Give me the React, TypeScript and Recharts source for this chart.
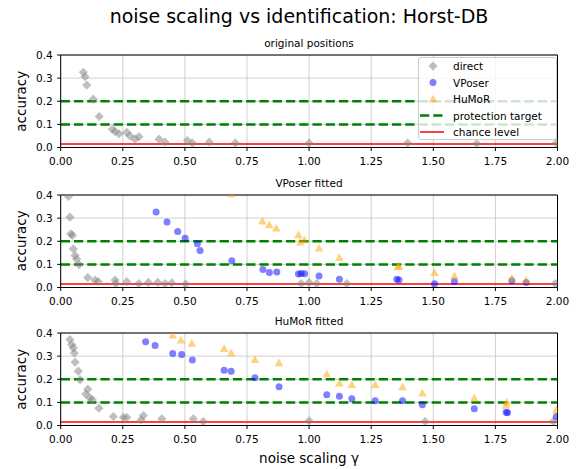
import {
  CartesianGrid,
  Legend,
  ReferenceLine,
  Scatter,
  ScatterChart,
  XAxis,
  YAxis,
} from "recharts";

type Pt = [number, number];

const xTicks = [0, 0.25, 0.5, 0.75, 1, 1.25, 1.5, 1.75, 2];
const yTicks = [0, 0.1, 0.2, 0.3, 0.4];
const protectionTargets = [0.1, 0.2];
const chanceLevel = 0.0147;
const legendLabels = ["direct", "VPoser", "HuMoR", "protection target", "chance level"];

// original positions
const origDirect: Pt[] = [
  [0.091, 0.325], [0.098, 0.306], [0.105, 0.27], [0.131, 0.209], [0.155, 0.134],
  [0.208, 0.079], [0.219, 0.069], [0.235, 0.059], [0.266, 0.065], [0.279, 0.05],
  [0.299, 0.036], [0.315, 0.047], [0.396, 0.036], [0.42, 0.023], [0.51, 0.03],
  [0.53, 0.019], [0.598, 0.023], [0.703, 0.019], [1.0, 0.019], [1.397, 0.019],
  [1.675, 0.017], [1.995, 0.019],
];

// VPoser fitted
const vpDirect: Pt[] = [
  [0.031, 0.394], [0.037, 0.304], [0.041, 0.232], [0.047, 0.225], [0.051, 0.167],
  [0.058, 0.138], [0.064, 0.123], [0.074, 0.099], [0.109, 0.043], [0.138, 0.032],
  [0.151, 0.026], [0.219, 0.032], [0.222, 0.017], [0.266, 0.025], [0.315, 0.017],
  [0.353, 0.022], [0.391, 0.022], [0.42, 0.017], [0.447, 0.02], [0.503, 0.015],
  [0.968, 0.017], [1.0, 0.022], [1.031, 0.017], [1.152, 0.017], [1.991, 0.017],
];
const vpVposer: Pt[] = [
  [0.384, 0.326], [0.428, 0.283], [0.471, 0.242], [0.501, 0.213], [0.55, 0.189],
  [0.561, 0.16], [0.689, 0.116], [0.814, 0.078], [0.84, 0.065], [0.87, 0.067],
  [0.957, 0.058], [0.968, 0.061], [0.982, 0.06], [1.04, 0.05], [1.122, 0.036],
  [1.353, 0.036], [1.362, 0.032], [1.505, 0.016], [1.585, 0.026], [1.816, 0.029],
  [1.874, 0.022],
];
const vpHumor: Pt[] = [
  [0.686, 0.405], [0.812, 0.287], [0.84, 0.271], [0.868, 0.257], [0.957, 0.228],
  [0.964, 0.196], [0.981, 0.206], [1.04, 0.171], [1.122, 0.13], [1.357, 0.09],
  [1.362, 0.094], [1.505, 0.065], [1.585, 0.051], [1.816, 0.041], [1.874, 0.032],
];

// HuMoR fitted
const hmDirect: Pt[] = [
  [0.037, 0.372], [0.044, 0.35], [0.051, 0.336], [0.055, 0.314], [0.058, 0.274],
  [0.071, 0.235], [0.078, 0.198], [0.109, 0.157], [0.101, 0.136], [0.118, 0.119],
  [0.127, 0.111], [0.154, 0.075], [0.212, 0.039], [0.252, 0.035], [0.266, 0.035],
  [0.323, 0.024], [0.333, 0.043], [0.407, 0.029], [0.534, 0.029], [0.574, 0.017],
  [1.0, 0.02], [1.467, 0.017], [1.983, 0.017],
];
const hmVposer: Pt[] = [
  [0.342, 0.362], [0.38, 0.346], [0.451, 0.311], [0.487, 0.307], [0.53, 0.283],
  [0.658, 0.239], [0.686, 0.235], [0.782, 0.206], [0.879, 0.168], [1.071, 0.133],
  [1.122, 0.126], [1.172, 0.116], [1.266, 0.107], [1.376, 0.107], [1.456, 0.09],
  [1.665, 0.072], [1.793, 0.057], [1.799, 0.055], [1.995, 0.039],
];
const hmHumor: Pt[] = [
  [0.451, 0.391], [0.484, 0.37], [0.528, 0.355], [0.658, 0.333], [0.686, 0.314],
  [0.782, 0.285], [0.879, 0.271], [1.071, 0.223], [1.122, 0.184], [1.172, 0.177],
  [1.266, 0.177], [1.376, 0.167], [1.456, 0.14], [1.665, 0.119], [1.796, 0.101],
  [1.793, 0.087], [1.995, 0.068],
];

const FONT = "'DejaVu Sans', sans-serif";
const PLOT_H = 92.5;
const AXIS_H = 20;
const PAD_TOP = 8;
const GRAY = "#808080";
const BLUE = "#0000ff";
const ORANGE = "#ffa500";
const GREEN = "#008000";
const RED = "#ff0000";

const toRows = (pts: Pt[]) => pts.map(([g, a]) => ({ g, a }));

function diamondPath(cx: number, cy: number, r = 4.6) {
  return `M${cx},${cy - r}L${cx + r},${cy}L${cx},${cy + r}L${cx - r},${cy}Z`;
}
function trianglePath(cx: number, cy: number, r = 4.3) {
  return `M${cx},${cy - r}L${cx + r},${cy + r * 0.8}L${cx - r},${cy + r * 0.8}Z`;
}

const Diamond = (p: any) =>
  p.cx == null ? null : <path d={diamondPath(p.cx, p.cy)} fill={GRAY} fillOpacity={0.5} />;
const Dot = (p: any) =>
  p.cx == null ? null : <circle cx={p.cx} cy={p.cy} r={3.5} fill={BLUE} fillOpacity={0.5} />;
const Tri = (p: any) =>
  p.cx == null ? null : <path d={trianglePath(p.cx, p.cy)} fill={ORANGE} fillOpacity={0.5} />;

function LegendBox() {
  const rowY = [9, 25.6, 42, 58.5, 75];
  return (
    <svg width={139} height={83} style={{ display: "block" }}>
      <rect x={0.5} y={0.5} width={138} height={82} rx={2.5} fill="#fff" fillOpacity={0.8} stroke="#cccccc" />
      <path d={diamondPath(15, rowY[0])} fill={GRAY} fillOpacity={0.5} />
      <circle cx={15} cy={rowY[1]} r={3.5} fill={BLUE} fillOpacity={0.5} />
      <path d={trianglePath(15, rowY[2])} fill={ORANGE} fillOpacity={0.5} />
      <line x1={2} x2={26} y1={rowY[3]} y2={rowY[3]} stroke={GREEN} strokeWidth={2.5} strokeDasharray="9.25 4" />
      <line x1={2} x2={26} y1={rowY[4]} y2={rowY[4]} stroke={RED} strokeWidth={1.5} />
      {legendLabels.map((label, i) => (
        <text key={label} x={35} y={rowY[i]} dominantBaseline="central" fontSize={10.5} fontFamily={FONT} fill="#000">
          {label}
        </text>
      ))}
    </svg>
  );
}

type PanelProps = {
  top: number;
  direct: Pt[];
  vposer?: Pt[];
  humor?: Pt[];
  showLegend?: boolean;
};

function Panel({ top, direct, vposer, humor, showLegend }: PanelProps) {
  const tickStyle = { fontSize: 10.5, fill: "#000", fontFamily: FONT };
  const h = PAD_TOP + PLOT_H + AXIS_H;
  return (
    <div style={{ position: "absolute", left: 0, top: top - PAD_TOP, width: 579, height: h }}>
      <ScatterChart width={579} height={h} margin={{ top: PAD_TOP, right: 21.5, bottom: 0, left: 0 }}>
        <CartesianGrid stroke="#c4c4c4" strokeWidth={0.8} />
        <XAxis
          type="number"
          dataKey="g"
          domain={[0, 2]}
          ticks={xTicks}
          interval={0}
          allowDataOverflow
          tickFormatter={(v: number) => v.toFixed(2)}
          tick={tickStyle}
          tickSize={3.5}
          tickMargin={6.5}
          height={AXIS_H}
          axisLine={{ stroke: "#000", strokeWidth: 1 }}
          tickLine={{ stroke: "#000" }}
        />
        <YAxis
          type="number"
          dataKey="a"
          domain={[0, 0.4]}
          ticks={yTicks}
          interval={0}
          allowDataOverflow
          tickFormatter={(v: number) => v.toFixed(1)}
          tick={tickStyle}
          tickSize={3.5}
          tickMargin={4.5}
          width={60.7}
          axisLine={{ stroke: "#000", strokeWidth: 1 }}
          tickLine={{ stroke: "#000" }}
        />
        <Scatter data={toRows(direct)} shape={Diamond} isAnimationActive={false} />
        {vposer && <Scatter data={toRows(vposer)} shape={Dot} isAnimationActive={false} />}
        {humor && <Scatter data={toRows(humor)} shape={Tri} isAnimationActive={false} />}
        {protectionTargets.map((y) => (
          <ReferenceLine key={y} y={y} stroke={GREEN} strokeWidth={2.5} strokeDasharray="9.25 4" />
        ))}
        <ReferenceLine y={chanceLevel} stroke={RED} strokeWidth={1.5} />
        {/* top and right frame */}
        <ReferenceLine y={0.4} stroke="#000" strokeWidth={1} />
        <ReferenceLine x={2} stroke="#000" strokeWidth={1} />
        {showLegend && (
          <Legend
            layout="vertical"
            align="center"
            verticalAlign="middle"
            content={() => <LegendBox />}
            wrapperStyle={{ position: "absolute", left: 418, top: PAD_TOP + 2, width: 139, height: 83 }}
          />
        )}
      </ScatterChart>
    </div>
  );
}

const panelTops = [55, 194.5, 333];
const panelTitles = ["original positions", "VPoser fitted", "HuMoR fitted"];

export default function App() {
  return (
    <div style={{ position: "fixed", left: 0, top: 0, width: 579, height: 469, background: "#fff", fontFamily: FONT }}>
      <Panel top={panelTops[0]} direct={origDirect} showLegend />
      <Panel top={panelTops[1]} direct={vpDirect} vposer={vpVposer} humor={vpHumor} />
      <Panel top={panelTops[2]} direct={hmDirect} vposer={hmVposer} humor={hmHumor} />
      <svg width={579} height={469} style={{ position: "absolute", left: 0, top: 0, pointerEvents: "none" }}>
        <text x={299} y={23} textAnchor="middle" fontSize={19} fontFamily={FONT} fill="#000">
          noise scaling vs identification: Horst-DB
        </text>
        {panelTitles.map((t, i) => (
          <text key={t} x={309} y={panelTops[i] - 8} textAnchor="middle" fontSize={10.5} fontFamily={FONT} fill="#000">
            {t}
          </text>
        ))}
        {panelTops.map((top, i) => (
          <text
            key={i}
            x={21}
            y={top + PLOT_H / 2}
            transform={`rotate(-90 21 ${top + PLOT_H / 2})`}
            textAnchor="middle"
            dominantBaseline="central"
            fontSize={13.5}
            fontFamily={FONT}
            fill="#000"
          >
            accuracy
          </text>
        ))}
        <text x={309} y={458} textAnchor="middle" dominantBaseline="central" fontSize={13.5} fontFamily={FONT} fill="#000">
          noise scaling γ
        </text>
      </svg>
    </div>
  );
}
